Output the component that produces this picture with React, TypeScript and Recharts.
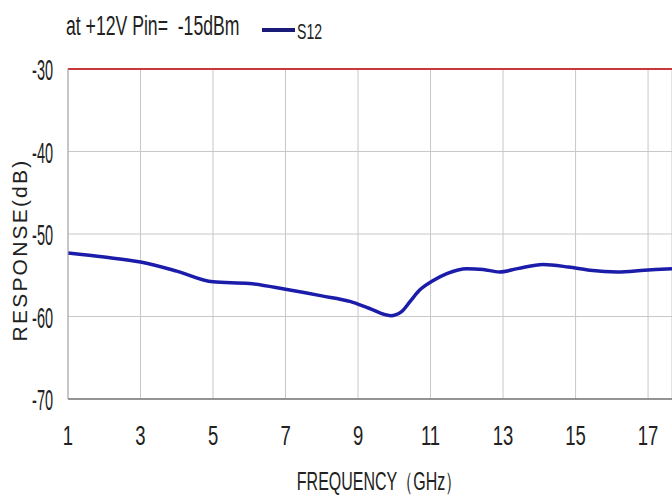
import React from 'react';
import { LineChart, Line, XAxis, YAxis, CartesianGrid, ReferenceLine } from 'recharts';

// S12 response
const freqGHz = [1, 2, 3, 4, 5, 6, 7, 8, 8.8, 9.3, 9.9, 10.2, 10.45, 10.7, 11.05, 11.45, 12, 12.45, 12.9, 13.4, 14.1, 14.8, 15.4, 16.15, 16.9, 17.66];
const s12dB = [-52.3, -52.8, -53.4, -54.5, -55.8, -56.0, -56.7, -57.5, -58.2, -59.0, -59.9, -59.4, -58.1, -56.8, -55.7, -54.8, -54.2, -54.3, -54.6, -54.2, -53.7, -54.0, -54.4, -54.6, -54.4, -54.2];

const xTicks = [1, 3, 5, 7, 9, 11, 13, 15, 17];
const yTicks = [-70, -60, -50, -40, -30];

const data = freqGHz.map((f, i) => ({ f, s12: s12dB[i] }));

const FONT = '"Liberation Sans", Arial, sans-serif';

const XTick = (props: any) => {
  const { x, y, payload } = props;
  return (
    <g transform={`translate(${x},${y + 46}) scale(0.66,1)`}>
      <text x={0} y={0} textAnchor="middle" fontSize={28} fontFamily={FONT} fill="#222">
        {payload.value}
      </text>
    </g>
  );
};

const YTick = (props: any) => {
  const { x, y, payload } = props;
  return (
    <g transform={`translate(${x - 15},${y + 11}) scale(0.5,1)`}>
      <text x={0} y={0} textAnchor="end" fontSize={29} fontFamily={FONT} fill="#222">
        {payload.value}
      </text>
    </g>
  );
};

const Nothing = () => <g />;

export default function App() {
  return (
    <div style={{ position: 'absolute', left: 0, top: 0, width: 672, height: 498, background: '#fff' }}>
      <LineChart width={672} height={498} data={data} margin={{ top: 69, right: 0, bottom: 0, left: 0 }}>
        <CartesianGrid stroke="#c8c8c8" strokeWidth={1} />
        <XAxis
          dataKey="f"
          type="number"
          domain={[1, 17.66]}
          ticks={xTicks}
          allowDataOverflow
          height={99}
          tickSize={0}
          tickMargin={0}
          tickLine={false}
          axisLine={{ stroke: '#7a7a7a', strokeWidth: 1.5 }}
          tick={<XTick />}
          interval={0}
        />
        <XAxis
          xAxisId="top"
          orientation="top"
          dataKey="f"
          type="number"
          domain={[1, 17.66]}
          ticks={xTicks}
          allowDataOverflow
          height={0}
          tickSize={6}
          axisLine={false}
          tickLine={{ stroke: '#b05050' }}
          tick={<Nothing />}
          interval={0}
        />
        <YAxis
          type="number"
          domain={[-70, -30]}
          ticks={yTicks}
          width={68}
          tickSize={0}
          tickMargin={0}
          tickLine={false}
          axisLine={{ stroke: '#a8a8a8' }}
          tick={<YTick />}
          interval={0}
        />
        <ReferenceLine y={-30} stroke="#c8383a" strokeWidth={2} />
        <Line
          type="monotone"
          dataKey="s12"
          stroke="#1c1caa"
          strokeWidth={3.5}
          dot={false}
          isAnimationActive={false}
        />
      </LineChart>
      <svg width={672} height={498} style={{ position: 'absolute', left: 0, top: 0, pointerEvents: 'none' }}>
        <g transform={`translate(66,35) scale(0.63,1)`}>
          <text x={0} y={0} fontSize={28} fontFamily={FONT} fill="#222" style={{ whiteSpace: 'pre' }}>
            {'at +12V Pin=  -15dBm'}
          </text>
        </g>
        <line x1={262} y1={30} x2={295} y2={30} stroke="#1a1a78" strokeWidth={4} />
        <g transform={`translate(297,39) scale(0.64,1)`}>
          <text x={0} y={0} fontSize={22} fontFamily={FONT} fill="#222">S12</text>
        </g>
        <g transform={`translate(379,490) scale(0.64,1)`}>
          <text x={0} y={0} textAnchor="middle" fontSize={25} fontFamily={FONT} fill="#222">
            FREQUENCY（GHz）
          </text>
        </g>
        <text
          x={0}
          y={0}
          transform="translate(27,250) rotate(-90)"
          textAnchor="middle"
          fontSize={21}
          letterSpacing={2.2}
          fontFamily={FONT}
          fill="#222"
        >
          RESPONSE(dB)
        </text>
      </svg>
    </div>
  );
}
